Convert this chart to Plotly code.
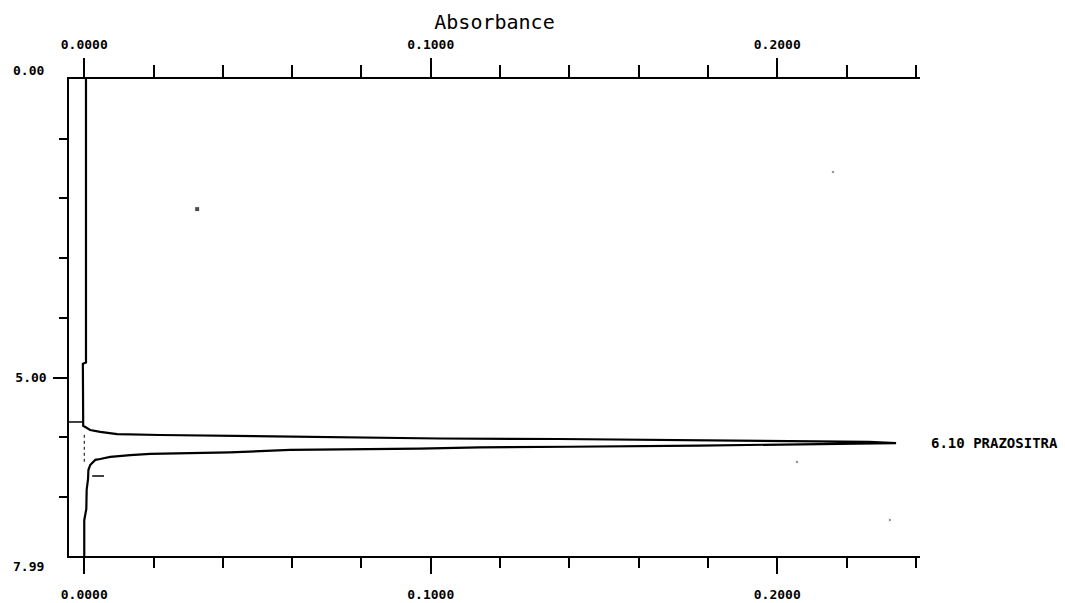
import plotly.graph_objects as go

# ---- data ----
time_min = [0.00, 4.75, 4.77, 5.81, 5.83, 5.88, 5.91, 5.95, 5.963, 5.98, 6.005, 6.022, 6.03,
            6.047, 6.064, 6.08, 6.10, 6.114, 6.14, 6.16, 6.17, 6.193, 6.198, 6.214, 6.253,
            6.27, 6.28, 6.30, 6.33, 6.365, 6.38, 6.466, 6.55, 6.70, 6.88, 7.20, 7.39, 7.99]
absorbance = [0.0005, 0.0005, -0.0004, -0.0003, 0.0003, 0.0017, 0.0046, 0.0095, 0.0219, 0.045,
              0.071, 0.1026, 0.137, 0.1775, 0.206, 0.2265, 0.2343, 0.218, 0.1775, 0.140, 0.114,
              0.0968, 0.0795, 0.0594, 0.042, 0.0248, 0.019, 0.0133, 0.0075, 0.0046, 0.0032,
              0.0017, 0.0012, 0.0011, 0.0007, 0.0006, 0.0, 0.0]

# integration markers (start / end of peak, baseline drop)
start_mark_t = [5.745, 5.745]
start_mark_a = [-0.0044, -0.0004]
end_mark_t = [6.65, 6.65]
end_mark_a = [0.0023, 0.0057]
drop_t = [5.96, 6.45]
drop_a = [0.0, 0.0]

# specks of noise on the printout
speck_t = [2.18, 1.558, 6.415, 7.387]
speck_a = [0.0326, 0.2161, 0.2057, 0.2325]
speck_size = [5, 2.5, 2.5, 2.5]

peak_label = "6.10 PRAZOSITRA"
peak_time = 6.10

x_range = [-0.0044, 0.2412]
y_range = [7.99, 0.0]

FONT = "DejaVu Sans Mono"

fig = go.Figure()
fig.add_trace(go.Scatter(x=absorbance, y=time_min, mode="lines",
                         line=dict(color="black", width=2.2), showlegend=False))
fig.add_trace(go.Scatter(x=start_mark_a, y=start_mark_t, mode="lines",
                         line=dict(color="black", width=1.5), showlegend=False))
fig.add_trace(go.Scatter(x=end_mark_a, y=end_mark_t, mode="lines",
                         line=dict(color="black", width=1.5), showlegend=False))
fig.add_trace(go.Scatter(x=drop_a, y=drop_t, mode="lines",
                         line=dict(color="black", width=1, dash="dot"), showlegend=False))
fig.add_trace(go.Scatter(x=speck_a, y=speck_t, mode="markers", xaxis="x2",
                         marker=dict(color="black", size=speck_size, symbol="square"),
                         showlegend=False))

tickfont = dict(family=FONT, size=13, color="black", weight="bold")

fig.update_layout(
    width=1065, height=603,
    margin=dict(l=69, r=145, t=79, b=47, autoexpand=False),
    paper_bgcolor="white", plot_bgcolor="white",
    xaxis=dict(range=x_range, showgrid=False, zeroline=False, automargin=False,
               showline=True, linecolor="black", linewidth=2,
               ticks="outside", tick0=0, dtick=0.1, ticklen=16, tickwidth=1.5, tickcolor="black",
               tickformat=".4f", tickfont=tickfont, ticklabelstandoff=9,
               minor=dict(dtick=0.02, tick0=0, ticks="outside", ticklen=10, tickwidth=1.5,
                          tickcolor="black", showgrid=False)),
    xaxis2=dict(range=x_range, overlaying="x", side="top", showgrid=False, zeroline=False,
                automargin=False,
                showline=True, linecolor="black", linewidth=2,
                ticks="outside", tick0=0, dtick=0.1, ticklen=19, tickwidth=1.5, tickcolor="black",
                tickformat=".4f", tickfont=tickfont, ticklabelstandoff=4,
                minor=dict(dtick=0.02, tick0=0, ticks="outside", ticklen=12, tickwidth=1.5,
                           tickcolor="black", showgrid=False),
                title=dict(text="Absorbance", font=dict(family=FONT, size=20, color="black"),
                           standoff=2)),
    yaxis=dict(range=y_range, showgrid=False, zeroline=False, automargin=False,
               showline=True, linecolor="black", linewidth=1.5,
               ticks="outside", tickvals=[5], ticktext=["5.00"], ticklen=14, tickwidth=1.5,
               tickcolor="black", tickfont=tickfont, ticklabelstandoff=4,
               minor=dict(tickvals=[1, 2, 3, 4, 6, 7], ticks="outside", ticklen=8,
                          tickwidth=1.5, tickcolor="black", showgrid=False)),
    annotations=[
        dict(text="0.00", x=0, xref="paper", y=0.0, yref="y", xanchor="right", yanchor="middle",
             xshift=-23, yshift=9, showarrow=False, font=tickfont),
        dict(text="7.99", x=0, xref="paper", y=7.99, yref="y", xanchor="right", yanchor="middle",
             xshift=-23, yshift=-10, showarrow=False, font=tickfont),
        dict(text=peak_label, x=1, xref="paper", y=peak_time, yref="y", xanchor="left",
             yanchor="middle", xshift=9, showarrow=False,
             font=dict(family=FONT, size=14, color="black", weight="bold")),
    ],
)

fig.write_html("out.html")
